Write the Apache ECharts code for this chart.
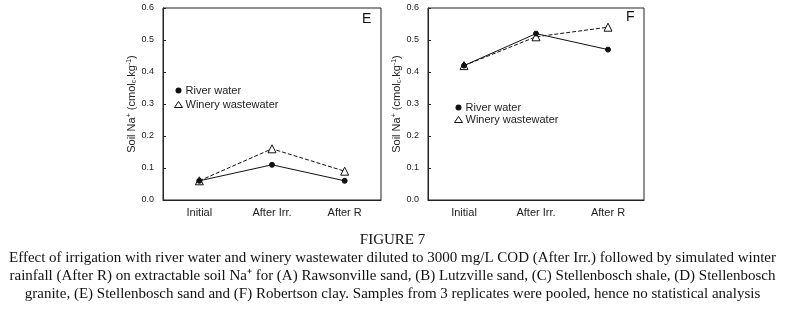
<!DOCTYPE html>
<html>
<head>
<meta charset="utf-8">
<script src="https://cdn.jsdelivr.net/npm/echarts@6/dist/echarts.min.js"></script>
<style>
  html, body { margin: 0; padding: 0; background: #fff; }
  #main { width: 785px; height: 312px; }
</style>
</head>
<body>
<div id="main"></div>
<script>
  // stages on the x axis
  var stages = ['Initial', 'After Irr.', 'After R'];
  var seriesNames = ['River water', 'Winery wastewater'];

  // panel E - Stellenbosch sand
  var riverE = [0.06, 0.11, 0.06];
  var wineryE = [0.06, 0.16, 0.09];
  // panel F - Robertson clay
  var riverF = [0.42, 0.52, 0.47];
  var wineryF = [0.42, 0.51, 0.54];

  var captionLines = [
    'FIGURE 7',
    'Effect of irrigation with river water and winery wastewater diluted to 3000 mg/L COD (After Irr.) followed by simulated winter',
    'rainfall (After R) on extractable soil Na\u207A for (A) Rawsonville sand, (B) Lutzville sand, (C) Stellenbosch shale, (D) Stellenbosch',
    'granite, (E) Stellenbosch sand and (F) Robertson clay. Samples from 3 replicates were pooled, hence no statistical analysis'
  ];

  var chart = echarts.init(document.getElementById('main'));
  var axisFont = 'Arial, "Liberation Sans", sans-serif';

  function xAx(i) {
    return {
      type: 'category', gridIndex: i, data: stages,
      axisLine: { lineStyle: { color: '#222' } },
      axisTick: { inside: true, length: 3, lineStyle: { color: '#222' } },
      axisLabel: { color: '#222', fontSize: 11, fontFamily: axisFont, margin: 7 }
    };
  }
  function yAx(i) {
    return {
      type: 'value', gridIndex: i, min: 0, max: 0.6, interval: 0.1,
      name: 'Soil Na{sup|+} (cmol{sub|c}.kg{sup|-1})',
      nameLocation: 'middle', nameGap: 22,
      nameTextStyle: {
        color: '#222', fontSize: 11, fontFamily: axisFont,
        rich: {
          sup: { fontSize: 7, verticalAlign: 'top', padding: [0, 0, 5, 0], color: '#222' },
          sub: { fontSize: 7, verticalAlign: 'bottom', padding: [5, 0, 0, 0], color: '#222' }
        }
      },
      splitLine: { show: false },
      axisLine: { show: true, lineStyle: { color: '#222' } },
      axisTick: { show: true, inside: true, length: 3, lineStyle: { color: '#222' } },
      axisLabel: {
        color: '#222', fontSize: 9, fontFamily: axisFont, margin: 9,
        formatter: function (v) { return v.toFixed(1); }
      }
    };
  }
  function lineSeries(name, data, i, filled) {
    return {
      name: name, type: 'line', xAxisIndex: i, yAxisIndex: i, data: data,
      symbol: filled ? 'circle' : 'triangle',
      symbolSize: filled ? 5 : 8,
      showSymbol: true,
      itemStyle: { color: filled ? '#111' : '#fff', borderColor: '#111', borderWidth: 1 },
      lineStyle: { color: '#111', width: 1, type: filled ? 'solid' : 'dashed' },
      z: filled ? 3 : 2
    };
  }
  function legendAt(left, top, gap) {
    return {
      data: [
        { name: seriesNames[0], icon: 'circle',
          itemStyle: { color: '#111', borderWidth: 0 } },
        { name: seriesNames[1], icon: 'triangle',
          itemStyle: { color: '#fff', borderColor: '#111', borderWidth: 1 } }
      ],
      left: left, top: top, orient: 'vertical', itemGap: gap,
      itemWidth: 8, itemHeight: 6,
      textStyle: { fontSize: 11, fontFamily: axisFont, color: '#222', padding: [0, 0, 0, -2] },
      selectedMode: false
    };
  }

  var captionGraphics = captionLines.map(function (t, k) {
    return {
      type: 'text', left: 'center', top: 233 + k * 17.7,
      style: { text: t, font: '15px "Liberation Serif", "Times New Roman", serif', fill: '#111' }
    };
  });

  chart.setOption({
    animation: false,
    backgroundColor: '#fff',
    grid: [
      { left: 163, top: 8, width: 218, height: 192, show: true, borderColor: '#222', borderWidth: 1 },
      { left: 428, top: 8, width: 216, height: 192, show: true, borderColor: '#222', borderWidth: 1 }
    ],
    xAxis: [xAx(0), xAx(1)],
    yAxis: [yAx(0), yAx(1)],
    legend: [legendAt(169, 80, 3), legendAt(449, 97, 1)],
    graphic: [
      { type: 'text', left: 362, top: 12, style: { text: 'E', font: '14px Arial, "Liberation Sans"', fill: '#111' } },
      { type: 'text', left: 626, top: 10, style: { text: 'F', font: '14px Arial, "Liberation Sans"', fill: '#111' } }
    ].concat(captionGraphics),
    series: [
      lineSeries(seriesNames[0], riverE, 0, true),
      lineSeries(seriesNames[1], wineryE, 0, false),
      lineSeries(seriesNames[0], riverF, 1, true),
      lineSeries(seriesNames[1], wineryF, 1, false)
    ]
  });
</script>
</body>
</html>
